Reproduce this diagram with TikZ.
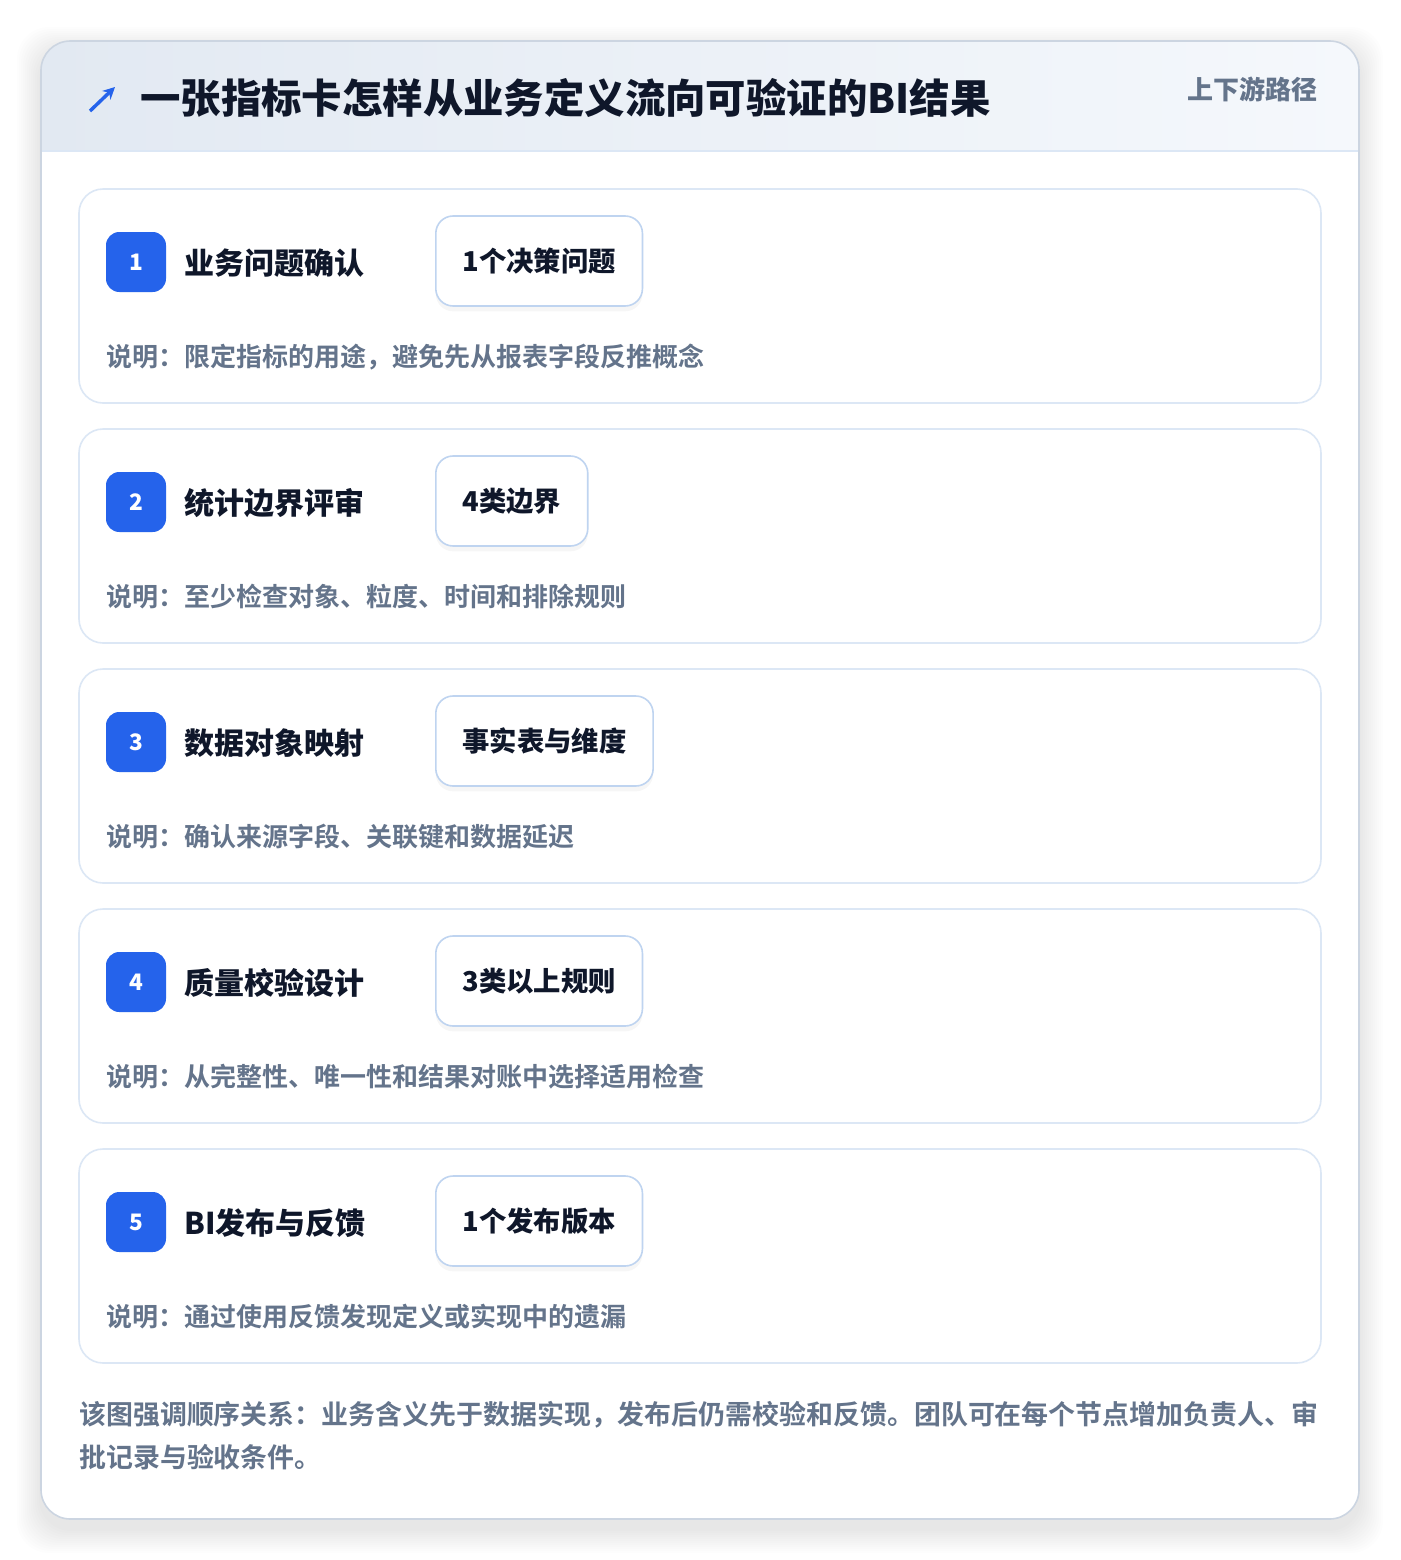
\documentclass[tikz,border=0pt]{standalone}
\usepackage{fontspec}
\setmainfont{Noto Sans CJK SC}[BoldFont={* Bold}]
\newfontfamily\heavyfont{Noto Sans CJK SC Black}
\usetikzlibrary{arrows.meta,shadows}

\definecolor{titleink}{HTML}{0F172A}
\definecolor{mutedink}{HTML}{64748B}
\definecolor{badgeblue}{HTML}{2563EB}
\definecolor{cardline}{HTML}{DCE7F5}
\definecolor{tagline}{HTML}{BFD4F0}
\definecolor{outerline}{HTML}{CCD5E1}
\definecolor{headleft}{HTML}{E2E9F2}
\definecolor{headright}{HTML}{F5F8FC}

\begin{document}
\begin{tikzpicture}[x=0.75pt,y=-0.75pt,
    card/.style={draw=cardline, line width=1.2pt, fill=white, rounded corners=18pt},
    badge/.style={fill=badgeblue, rounded corners=10pt, minimum size=45pt, inner sep=0pt,
      text=white, font=\heavyfont\fontsize{17}{19}\selectfont},
    steptitle/.style={anchor=west, inner sep=0pt, text=titleink,
      font=\heavyfont\fontsize{22.5}{26}\selectfont},
    tagbox/.style={anchor=west, draw=tagline, line width=1.2pt, fill=white, rounded corners=13pt,
      minimum height=67.5pt, inner xsep=20pt, text=titleink,
      font=\heavyfont\fontsize{20.5}{24}\selectfont,
      drop shadow={shadow xshift=0pt, shadow yshift=-4pt, opacity=0.035, fill=black}},
    note/.style={anchor=west, inner sep=0pt, text=mutedink,
      font=\bfseries\fontsize{19.5}{22}\selectfont}]

  % 页面大小
  \useasboundingbox (0,0) rectangle (1400,1560);
  \fill[white] (0,0) rectangle (1400,1560);

  % 外框阴影
  \foreach \s in {2,4,...,24}
    \fill[black, opacity=0.006, rounded corners=24pt] (41-\s,41-\s+10) rectangle (1359+\s,1519+\s+10);

  % 外框
  \fill[white, rounded corners=22pt] (41,41) rectangle (1359,1519);
  \begin{scope}
    \clip[rounded corners=22pt] (41,41) rectangle (1359,1519);
    \shade[left color=headleft, right color=headright] (41,41) rectangle (1359,151);
  \end{scope}
  \draw[cardline, line width=1.2pt] (41,151) -- (1359,151);
  \draw[outerline, line width=1.2pt, rounded corners=22pt] (41,41) rectangle (1359,1519);

  % 标题
  \draw[badgeblue, line width=2.6pt, -{Stealth[length=9pt,width=9pt]}] (90,111) -- (115,87);
  \node[anchor=west, inner sep=0pt, text=titleink, font=\heavyfont\fontsize{30.3}{34}\selectfont]
    (title) at (140,98) {一张指标卡怎样从业务定义流向可验证的BI结果};
  \node[anchor=east, inner sep=0pt, text=mutedink, font=\heavyfont\fontsize{19.5}{22}\selectfont]
    (route) at (1318,89) {上下游路径};

  % 五个步骤
  \foreach \i/\name/\tag/\desc in {
      1/业务问题确认/1个决策问题/说明：限定指标的用途，避免先从报表字段反推概念,
      2/统计边界评审/4类边界/说明：至少检查对象、粒度、时间和排除规则,
      3/数据对象映射/事实表与维度/说明：确认来源字段、关联键和数据延迟,
      4/质量校验设计/3类以上规则/说明：从完整性、唯一性和结果对账中选择适用检查,
      5/BI发布与反馈/1个发布版本/说明：通过使用反馈发现定义或实现中的遗漏} {
    \pgfmathsetmacro{\top}{189+240*(\i-1)}
    \draw[card] (79,\top) rectangle (1321,\top+214);
    \node[badge] (badge\i) at (136,\top+73) {\i};
    \node[steptitle] (name\i) at (184,\top+74) {\name};
    \node[tagbox] (tag\i) at (435,\top+72) {\tag};
    \node[note] (desc\i) at (106,\top+168) {\desc};
  }

  % 底部说明
  \node[note, font=\bfseries\fontsize{20.2}{24}\selectfont] (foot1) at (79,1415)
    {该图强调顺序关系：业务含义先于数据实现，发布后仍需校验和反馈。团队可在每个节点增加负责人、审};
  \node[note, font=\bfseries\fontsize{20.2}{24}\selectfont] (foot2) at (79,1457)
    {批记录与验收条件。};

\end{tikzpicture}
\end{document}
